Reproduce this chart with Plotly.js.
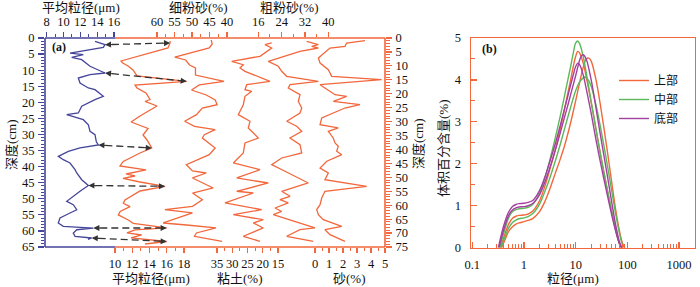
<!DOCTYPE html>
<html>
<head>
<meta charset="utf-8">
<script src="https://cdn.plot.ly/plotly-3.0.1.min.js"></script>
<style>html,body{margin:0;padding:0;background:#fff}#chart{width:700px;height:287px}</style>
</head>
<body>
<div id="chart"></div>
<script>
// ---------------- DATA: panel (a) ----------------
// Blue profile (left depth axis 0-65 cm), mean grain size (um)
const blueDepth = [1.03,2.08,2.89,4.35,4.67,5.19,6.0,6.75,8.8,10.89,11.42,12.44,14.0,15.55,16.08,18.13,19.19,21.24,23.33,23.86,24.67,25.41,26.97,29.02,30.08,32.3,33.28,34.2,35.24,36.8,37.85,38.88,40.96,41.99,44.07,45.88,47.68,49.77,50.79,51.85,53.41,54.43,55.99,57.54,58.57,59.1,59.63,60.65,61.68,62.2,62.6];
const blueMgs = [13.74,14.93,14.73,11.16,10.77,12.35,10.97,12.16,13.15,14.93,13.15,11.76,11.96,12.95,13.74,14.73,13.74,12.16,11.76,10.38,11.57,12.35,12.95,13.15,13.74,13.9,14.14,11.96,10.57,9.38,9.97,10.77,11.37,11.57,12.16,12.95,11.96,10.97,10.38,11.16,11.57,10.77,9.58,9.38,9.97,13.54,11.57,11.16,11.37,13.35,12.9];

// Orange profiles (right depth axis 0-75 cm)
const mgsDepth = [1.08,1.79,3.59,8.25,8.97,10.05,11.48,13.63,15.54,16.86,17.94,19.73,22.07,22.78,24.4,25.83,27.99,30.14,31.22,32.47,34.8,36.6,39.47,41.26,44.31,45.93,47.36,48.8,49.52,50.41,51.67,53.21,54.9,56.87,58.13,59.3,60.5,62.25,63.5,65.3,66.5,68.17,68.89,69.97,70.69,71.76,73.02,73.92];
const mgsOrange = [16.38,16.38,16.14,10.7,10.9,11.51,12.09,12.55,18.31,12.32,12.55,13.59,14.06,13.48,14.87,14.06,12.9,11.86,12.9,13.83,13.25,13.71,14.26,12.9,10.96,10.58,13.59,11.28,12.32,10.93,12.9,15.8,12.9,11.74,11.16,10.96,11.74,10.6,10.38,11.54,12.12,15.99,12.32,11.39,13.1,11.86,15.99,13.48];

const fineSiltDepth = [0.72,2.15,3.59,6.82,7.89,9.69,10.76,13.28,15.54,16.86,18.66,20.45,22.25,23.93,25.12,27.52,29.89,31.68,32.9,34.7,35.88,36.96,39.47,41.87,45.46,47.72,48.44,50.23,53.82,55.63,58.02,60.39,61.61,62.79,66.38,67.1,68.17,69.97,71.15,73.02];
const fineSilt = [44.51,44.23,45.07,54.93,51.83,50.7,49.01,49.01,40.85,47.89,50.14,45.92,43.38,42.82,47.04,48.73,52.11,49.3,43.38,46.48,47.04,45.92,43.38,45.07,51.63,49.86,45.92,49.86,43.94,49.86,47.04,49.86,57.75,49.86,58.23,51.55,43.18,48.73,49.3,41.41];

const clayDepth = [1.79,2.4,3.59,6.57,8.36,9.58,10.76,11.95,15.54,16.76,18.55,19.12,20.92,23.93,27.52,29.89,32.29,35.88,37.67,41.26,44.85,47.26,50.23,52.03,55.0,55.62,59.2,61.61,63.4,65.2,66.38,68.17,71.15,72.95];
const clay = [17.07,19.26,17.07,20.9,30.18,26.38,27.46,25.82,17.62,25.26,25.82,23.62,25.82,26.38,28.02,24.18,24.74,21.46,25.82,26.38,29.66,20.9,28.54,18.18,28.54,23.1,32.38,20.34,29.66,19.82,23.1,19.82,26.38,20.9];

const coarseSiltDepth = [1.18,2.4,2.98,3.59,4.77,8.36,10.15,11.95,13.74,15.54,16.76,17.94,20.34,22.71,25.12,26.91,29.89,31.68,33.48,35.88,38.28,41.26,43.06,45.46,47.83,52.03,55.0,56.8,58.02,59.2,61.0,62.25,63.4,64.59,68.17,68.78,71.15,72.95];
const coarseSilt = [32.59,36.57,34.31,36.57,30.3,19.43,22.86,24.02,25.74,36.57,26.87,26.28,30.3,29.71,30.88,30.3,25.74,29.16,30.88,26.87,30.3,30.88,24.02,20.59,25.15,33.14,24.02,26.87,23.44,26.28,21.73,24.02,21.14,24.57,35.44,30.3,25.74,34.86];

const sandDepth = [0.97,1.79,2.98,3.59,7.18,8.97,11.37,13.74,14.96,16.76,20.34,20.92,22.71,23.93,25.12,27.52,28.7,31.11,32.29,33.48,35.88,37.67,38.86,40.65,41.87,44.24,46.65,48.44,50.84,53.21,55.0,57.41,59.81,61.61,63.4,65.2,67.56,68.78,70.58,72.95];
const sand = [3.57,2.26,2.14,1.07,0.24,0.36,0.95,1.19,4.76,0.36,1.43,2.26,1.31,3.21,2.14,0.95,0.48,0.36,1.66,0.95,1.3,1.43,1.66,1.55,1.91,0.84,0.36,0.95,0.71,3.69,0.71,0.48,0.36,0.12,0.24,0.59,1.91,0.71,1.07,2.14];

// Arrows linking the two cores
const arrowBlueDepth = [2.08,10.89,33.28,45.88,59.1,62.2];
const arrowBlueMgs = [14.93,14.93,14.14,12.95,13.54,13.35];
const arrowOrangeDepth = [1.79,15.54,39.47,53.21,68.17,73.02];
const arrowOrangeMgs = [16.38,18.31,14.26,15.8,15.99,15.99];

// Tick labels panel (a)
const blueTopTicks = [8,10,12,14,16];
const mgsBottomTicks = [10,12,14,16,18];
const fineSiltTicks = [60,55,50,45,40];
const clayTicks = [35,30,25,20,15];
const coarseSiltTicks = [16,24,32,40];
const sandTicks = [0,1,2,3,4,5];
const leftDepthTicks = [0,5,10,15,20,25,30,35,40,45,50,55,60,65];
const rightDepthTicks = [0,5,10,15,20,25,30,35,40,45,50,55,60,65,70,75];

// ---------------- DATA: panel (b) ----------------
const sizeUpperA = [0.35,0.4,0.5,0.6,0.7,0.8,1,1.2,1.5,2,2.5,3,4,5,6,7,8,9,10,11,12,14,16,20,25,30,40,50,60,70,78];
const upperA = [0,0.22,0.55,0.7,0.75,0.77,0.78,0.8,0.88,1.12,1.44,1.76,2.32,2.82,3.26,3.66,4.0,4.32,4.56,4.68,4.64,4.4,4.08,3.46,2.8,2.25,1.45,0.85,0.4,0.1,0];
const sizeUpperB = [0.37,0.45,0.5,0.6,0.7,0.8,1,1.2,1.5,2,2.5,3,4,5,6,7,8,10,12,14,16,18,20,25,30,40,50,60,70,80,90];
const upperB = [0,0.25,0.38,0.5,0.56,0.59,0.62,0.65,0.7,0.86,1.08,1.32,1.76,2.1,2.4,2.7,2.98,3.5,3.95,4.3,4.5,4.52,4.45,3.98,3.42,2.4,1.55,0.88,0.42,0.12,0];
const sizeMiddleA = [0.34,0.4,0.5,0.6,0.7,0.8,1,1.2,1.5,2,2.5,3,4,5,6,7,8,9,10,11,12,14,16,20,25,30,40,50,60,70,80];
const middleA = [0,0.32,0.7,0.86,0.91,0.93,0.94,0.96,1.04,1.3,1.64,1.98,2.6,3.12,3.58,3.98,4.32,4.64,4.88,4.93,4.86,4.56,4.18,3.48,2.8,2.25,1.45,0.86,0.42,0.12,0];
const sizeMiddleB = [0.36,0.45,0.5,0.6,0.7,0.8,1,1.2,1.5,2,2.5,3,4,5,6,7,8,10,12,14,15,16,18,20,25,30,40,50,60,70,80,88];
const middleB = [0,0.32,0.46,0.6,0.66,0.69,0.71,0.74,0.82,1.04,1.32,1.58,2.05,2.45,2.8,3.1,3.35,3.74,3.96,4.05,4.07,4.05,3.98,3.85,3.38,2.9,2.05,1.35,0.78,0.36,0.08,0];
const sizeBottomA = [0.33,0.4,0.5,0.6,0.7,0.8,1,1.2,1.5,2,2.5,3,4,5,6,7,8,10,12,13,14,16,20,25,30,40,50,60,70,78];
const bottomA = [0,0.4,0.76,0.9,0.95,0.97,0.98,1.0,1.06,1.26,1.54,1.82,2.3,2.72,3.08,3.38,3.65,4.1,4.48,4.58,4.6,4.5,4.0,3.3,2.7,1.8,1.08,0.52,0.15,0];
const sizeBottomB = [0.32,0.4,0.5,0.6,0.7,0.8,1,1.2,1.5,2,2.5,3,4,5,6,7,8,9,10,11,12,14,16,20,25,30,40,50,60,70,76];
const bottomB = [0,0.5,0.84,0.98,1.03,1.05,1.06,1.08,1.13,1.36,1.66,1.96,2.46,2.9,3.28,3.6,3.88,4.12,4.32,4.4,4.36,4.12,3.8,3.2,2.55,2.05,1.32,0.78,0.38,0.1,0];
const legendNames = ['上部','中部','底部'];
const bYTicks = [0,1,2,3,4,5];
const bXTicks = [0.1,1,10,100,1000];

// ---------------- STYLE / GEOMETRY ----------------
const W = 700, H = 287;
const BLUE = '#45459a', ORANGE = '#f2673c', GREEN = '#5cb85a', PURPLE = '#a2409f';
const FONT = 'Times New Roman, Liberation Serif, Noto Sans CJK SC, serif';
const A = {l:45, r:385, t:38, b:247, split:115};
const B = {l:471, r:695, t:38, b:247.7};
const px = v => v / W, py = v => 1 - v / H;
const aDomX = [px(A.l), px(A.r)], aDomY = [py(A.b), py(A.t)];
const tickFont = {family: FONT, size: 12.5, color: '#111'};

function minorVals(majors, step) {
  const out = [];
  for (let i = 0; i < majors.length - 1; i++) {
    const a = Math.min(majors[i], majors[i+1]), b = Math.max(majors[i], majors[i+1]);
    for (let v = a + step; v < b - 1e-9; v += step) out.push(+v.toFixed(4));
  }
  return out;
}
function xAxisA(range, side, vals, minor, color, extra) {
  return Object.assign({
    domain: aDomX, range: range, side: side, anchor: 'y',
    tickmode: 'array', tickvals: vals, ticktext: vals.map(String),
    ticks: 'outside', ticklen: 5, tickwidth: 1.2, tickcolor: color,
    minor: {tickmode: 'array', tickvals: minor, ticks: 'outside', ticklen: 3, tickwidth: 1, tickcolor: color},
    showgrid: false, zeroline: false, showline: false, tickfont: tickFont, ticklabelstandoff: side === 'top' ? 1 : 0
  }, extra || {});
}

const layout = {
  width: W, height: H, margin: {l:0, r:0, t:0, b:0},
  paper_bgcolor: '#fff', plot_bgcolor: 'rgba(0,0,0,0)',
  showlegend: true,
  font: {family: FONT, size: 12, color: '#111'},
  xaxis: xAxisA([7.798, 48.21], 'top', blueTopTicks, minorVals(blueTopTicks, 1), BLUE),
  xaxis2: xAxisA([1.884, 41.30], 'bottom', mgsBottomTicks, minorVals(mgsBottomTicks, 1), ORANGE, {overlaying: 'x'}),
  xaxis3: xAxisA([92, -5.14], 'top', fineSiltTicks, minorVals(fineSiltTicks, 2.5), ORANGE, {overlaying: 'x'}),
  xaxis4: xAxisA([91.39, -20.08], 'bottom', clayTicks, minorVals(clayTicks, 2.5), ORANGE, {overlaying: 'x'}),
  xaxis5: xAxisA([-57.13, 59.44], 'top', coarseSiltTicks, minorVals(coarseSiltTicks, 4), ORANGE, {overlaying: 'x'}),
  xaxis6: xAxisA([-19.29, 5.0], 'bottom', sandTicks, minorVals(sandTicks, 0.5), ORANGE, {overlaying: 'x'}),
  yaxis: {
    domain: aDomY, range: [65, 0], anchor: 'x', side: 'left',
    tickmode: 'array', tickvals: leftDepthTicks, ticks: 'outside', ticklen: 6, tickwidth: 1.2, tickcolor: BLUE,
    minor: {dtick: 1, ticks: 'outside', ticklen: 3.5, tickwidth: 1, tickcolor: BLUE},
    showgrid: false, zeroline: false, showline: false, tickfont: tickFont, ticklabelstandoff: 1
  },
  yaxis2: {
    overlaying: 'y', range: [75, 0], anchor: 'x', side: 'right',
    tickmode: 'array', tickvals: rightDepthTicks, ticks: 'outside', ticklen: 6, tickwidth: 1.2, tickcolor: ORANGE,
    minor: {dtick: 1, ticks: 'outside', ticklen: 3.5, tickwidth: 1, tickcolor: ORANGE},
    showgrid: false, zeroline: false, showline: false, tickfont: tickFont, ticklabelstandoff: 1
  },
  xaxis7: {
    type: 'log', domain: [px(B.l), px(B.r)], range: [-1.025, 3.31], anchor: 'y3',
    tickmode: 'array', tickvals: bXTicks, ticktext: ['0.1','1','10','100','1000'],
    ticks: 'inside', ticklen: 6, tickwidth: 1.2, tickcolor: ORANGE,
    minor: {tickmode: 'array', tickvals: [0.2,0.3,0.4,0.5,0.6,0.7,0.8,0.9,2,3,4,5,6,7,8,9,20,30,40,50,60,70,80,90,200,300,400,500,600,700,800,900], ticks: 'inside', ticklen: 3.5, tickwidth: 1, tickcolor: ORANGE},
    showline: true, linecolor: ORANGE, linewidth: 1.4, mirror: true,
    showgrid: false, zeroline: false, tickfont: tickFont, ticklabelstandoff: 5
  },
  yaxis3: {
    domain: [py(B.b), py(B.t)], range: [0, 5], anchor: 'x7',
    tickmode: 'array', tickvals: bYTicks, ticks: 'inside', ticklen: 6, tickwidth: 1.2, tickcolor: ORANGE,
    minor: {tickmode: 'array', tickvals: [0.5,1.5,2.5,3.5,4.5], ticks: 'inside', ticklen: 3.5, tickwidth: 1, tickcolor: ORANGE},
    showline: true, linecolor: ORANGE, linewidth: 1.4, mirror: true,
    showgrid: false, zeroline: false, tickfont: tickFont, ticklabelstandoff: 6
  },
  legend: {
    x: px(614), xanchor: 'left', y: py(66), yanchor: 'top',
    bgcolor: 'rgba(0,0,0,0)', borderwidth: 0, font: {family: FONT, size: 12, color: '#111'},
    tracegroupgap: 0, itemwidth: 30
  },
  shapes: [],
  annotations: []
};

// Frame of panel (a)
const frame = [
  [A.l, A.t, A.l, A.b, BLUE], [A.l, A.t, A.split, A.t, BLUE], [A.l, A.b, A.split, A.b, BLUE],
  [A.split, A.t, A.r, A.t, ORANGE], [A.split, A.b, A.r, A.b, ORANGE], [A.r, A.t, A.r, A.b, ORANGE]
];
frame.forEach(f => layout.shapes.push({type: 'line', xref: 'paper', yref: 'paper',
  x0: px(f[0]), y0: py(f[1]), x1: px(f[2]), y1: py(f[3]), line: {color: f[4], width: 1.6}, layer: 'above'}));

// Titles
function label(text, x, y, angle, size, yanchor) {
  layout.annotations.push({text: text, xref: 'paper', yref: 'paper', x: px(x), y: py(y),
    showarrow: false, textangle: angle || 0, xanchor: 'center', yanchor: yanchor || 'middle', borderpad: 0,
    font: {family: FONT, size: size || 13, color: '#111'}});
}
label('平均粒径(μm)', 81, 8);
label('细粉砂(%)', 198, 8);
label('粗粉砂(%)', 289, 8);
label('平均粒径(μm)', 151, 287, 0, 13, 'bottom');
label('粘土(%)', 240, 287, 0, 13, 'bottom');
label('砂(%)', 349, 287, 0, 13, 'bottom');
label('深度(cm)', 11, 145, -90);
label('深度(cm)', 418, 144, -90);
label('体积百分含量(%)', 443, 148, -90);
label('粒径(μm)', 573, 287, 0, 13, 'bottom');
label('<b>(a)</b>', 59, 47, 0, 12);
label('<b>(b)</b>', 489, 49, 0, 12);

// Arrows: map data to paper through the axis ranges/domains
function mapLin(ax, dom, v) { const r = ax.range; return dom[0] + (v - r[0]) / (r[1] - r[0]) * (dom[1] - dom[0]); }
function mapY(ax, v) { const r = ax.range; return aDomY[0] + (v - r[0]) / (r[1] - r[0]) * (aDomY[1] - aDomY[0]); }
for (let i = 0; i < arrowBlueDepth.length; i++) {
  const x0 = mapLin(layout.xaxis, aDomX, arrowBlueMgs[i]);
  const y0 = mapY(layout.yaxis, arrowBlueDepth[i]);
  const x1 = mapLin(layout.xaxis2, aDomX, arrowOrangeMgs[i]);
  const y1 = mapY(layout.yaxis2, arrowOrangeDepth[i]);
  const dx = (x1 - x0) * W, dy = -(y1 - y0) * H;
  const len = Math.hypot(dx, dy), ux = dx / len, uy = dy / len, t = 7;
  layout.shapes.push({type: 'line', xref: 'paper', yref: 'paper', x0: x0 + ux * t / W, y0: y0 - uy * t / H,
    x1: x1 - ux * t / W, y1: y1 + uy * t / H, line: {color: '#333', width: 1.3, dash: '7px,4px'}});
  [[x1, y1, -ux, -uy], [x0, y0, ux, uy]].forEach(p => layout.annotations.push({
    xref: 'paper', yref: 'paper', x: p[0], y: p[1], ax: p[2] * (t + 2), ay: p[3] * (t + 2),
    axref: 'pixel', ayref: 'pixel', text: '', showarrow: true, arrowhead: 2, arrowsize: 1.1, arrowwidth: 1.1, arrowcolor: '#333'}));
}

// Traces
const traces = [];
const lineA = (x, y, xa, ya, color) => ({x: x, y: y, xaxis: xa, yaxis: ya, type: 'scatter', mode: 'lines',
  line: {color: color, width: 1.3}, showlegend: false, hoverinfo: 'skip'});
traces.push(lineA(blueMgs, blueDepth, 'x', 'y', BLUE));
traces.push(lineA(mgsOrange, mgsDepth, 'x2', 'y2', ORANGE));
traces.push(lineA(fineSilt, fineSiltDepth, 'x3', 'y2', ORANGE));
traces.push(lineA(clay, clayDepth, 'x4', 'y2', ORANGE));
traces.push(lineA(coarseSilt, coarseSiltDepth, 'x5', 'y2', ORANGE));
traces.push(lineA(sand, sandDepth, 'x6', 'y2', ORANGE));

const curvesB = [
  [sizeUpperA, upperA, ORANGE, 0, true], [sizeUpperB, upperB, ORANGE, 0, false],
  [sizeMiddleA, middleA, GREEN, 1, true], [sizeMiddleB, middleB, GREEN, 1, false],
  [sizeBottomA, bottomA, PURPLE, 2, true], [sizeBottomB, bottomB, PURPLE, 2, false]
];
curvesB.forEach(c => traces.push({x: c[0], y: c[1], xaxis: 'x7', yaxis: 'y3', type: 'scatter', mode: 'lines',
  line: {color: c[2], width: 1.4, shape: 'spline', smoothing: 0.9}, name: legendNames[c[3]],
  legendgroup: legendNames[c[3]], showlegend: c[4], hoverinfo: 'skip'}));

Plotly.newPlot('chart', traces, layout, {staticPlot: true, displayModeBar: false});
</script>
</body>
</html>
